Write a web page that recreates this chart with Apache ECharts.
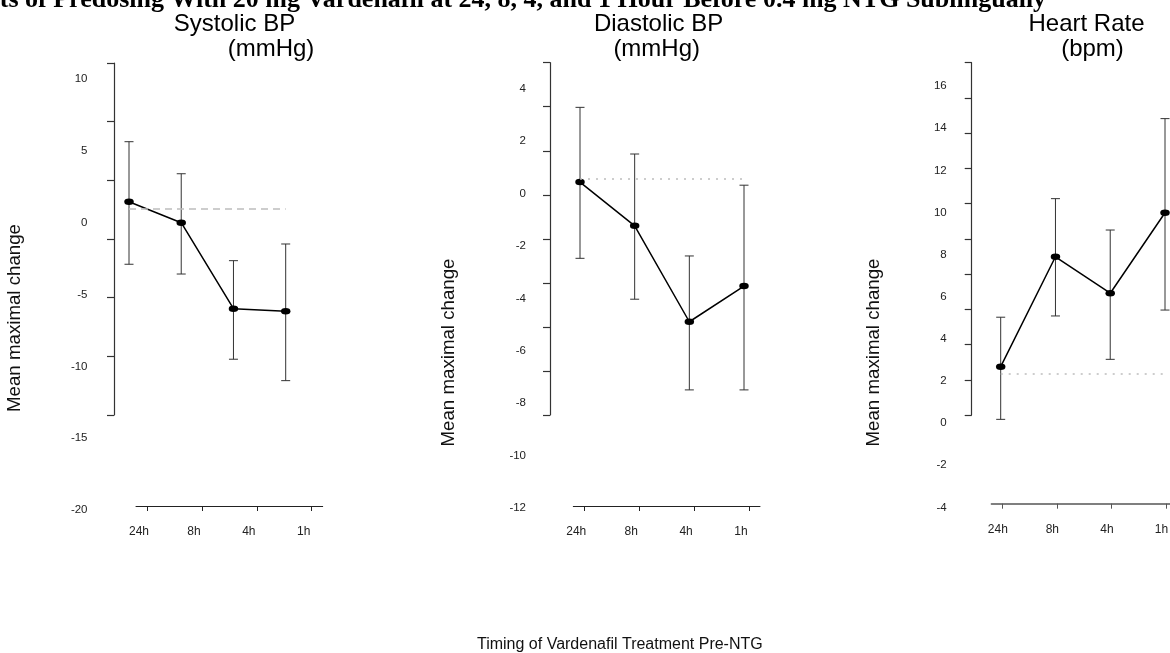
<!DOCTYPE html>
<html><head><meta charset="utf-8">
<script src="https://cdn.jsdelivr.net/npm/echarts@6/dist/echarts.min.js"></script>
<style>html,body{margin:0;padding:0;background:#fff;}#c{width:1170px;height:653px;}</style>
</head><body><div id="c"></div>
<script>
// ---- data ----
const categories = ['24h', '8h', '4h', '1h'];

const sysTickLabels = [-20, -15, -10, -5, 0, 5, 10];
const sysMean = [1.46, 0.00, -5.98, -6.16];
const sysLow  = [-2.89, -3.57, -9.50, -10.99];
const sysHigh = [5.64, 3.41, -2.64, -1.48];
const sysRef = 0.94;

const diaTickLabels = [-12, -10, -8, -6, -4, -2, 0, 2, 4];
const diaMean = [0.44, -1.23, -4.89, -3.53];
const diaLow  = [-2.47, -4.03, -7.49, -7.49];
const diaHigh = [3.29, 1.51, -2.38, 0.32];
const diaRef = 0.55;

const hrTickLabels = [-4, -2, 0, 2, 4, 6, 8, 10, 12, 14, 16];
const hrMean = [2.68, 7.90, 6.17, 9.99];
const hrLow  = [0.18, 5.09, 3.03, 5.37];
const hrHigh = [5.03, 10.66, 9.17, 14.46];
const hrRef = 2.33;

const mainTitle = 'Effects of Predosing With 20 mg Vardenafil at 24, 8, 4, and 1 Hour Before 0.4 mg NTG Sublingually';
const panelTitles = [['Systolic BP', '(mmHg)'], ['Diastolic BP', '(mmHg)'], ['Heart Rate', '(bpm)']];
const yTitle = 'Mean maximal change';
const xTitle = 'Timing of Vardenafil Treatment Pre-NTG';

// ---- layout (positions / styles only) ----
const panels = [
  { ticks: sysTickLabels, mean: sysMean, low: sysLow, high: sysHigh, ref: sysRef,
    axisX: 114, axisTop: 63, axisBottom: 415,
    dataLeft: 129, dataRight: 285.7, dataTop: 79.05, dataBottom: 510.1, yLabelMargin: 41.5,
    xLeft: 136, xW: 186.7, xLine: 506, xPad: 16, xColor: '#222', xLW: 1,
    t1x: 234.5, t2x: 271, ytx: 15, yty: 318, refDash: [7, 5] },
  { ticks: diaTickLabels, mean: diaMean, low: diaLow, high: diaHigh, ref: diaRef,
    axisX: 550, axisTop: 62.7, axisBottom: 415,
    dataLeft: 580, dataRight: 744, dataTop: 88.75, dataBottom: 508.1, yLabelMargin: 54,
    xLeft: 573.3, xW: 186.7, xLine: 506, xPad: 16, xColor: '#222', xLW: 1,
    t1x: 658.6, t2x: 656.7, ytx: 449, yty: 352.5, refDash: [2, 6] },
  { ticks: hrTickLabels, mean: hrMean, low: hrLow, high: hrHigh, ref: hrRef,
    axisX: 971.7, axisTop: 62.7, axisBottom: 415,
    dataLeft: 1000.7, dataRight: 1165, dataTop: 86.19, dataBottom: 507.39, yLabelMargin: 54,
    xLeft: 991.4, xW: 185.5, xLine: 503.7, xPad: 9, xColor: '#555', xLW: 1.5,
    t1x: 1086.5, t2x: 1092.5, ytx: 874, yty: 352.5, refDash: [2, 6] }
];

const FONT = 'Liberation Sans';
const grid = [], xAxis = [], yAxis = [], series = [], graphic = [];
const title = [
  { text: mainTitle, left: -58, top: 0.2, padding: 0, textAlign: 'left', textVerticalAlign: 'middle',
    textStyle: { fontFamily: 'Liberation Serif', fontWeight: 'bold', fontSize: 26, color: '#000' } },
  { text: xTitle, left: 477, top: 644.3, padding: 0, textAlign: 'left', textVerticalAlign: 'middle',
    textStyle: { fontFamily: FONT, fontWeight: 'normal', fontSize: 16, color: '#111' } }
];

panels.forEach((p, k) => {
  const mn = p.ticks[0], mx = p.ticks[p.ticks.length - 1], step = p.ticks[1] - p.ticks[0];
  const g0 = grid.length;
  // grid: visible y axis line + ticks
  grid.push({ left: p.axisX, top: p.axisTop, width: 20, height: p.axisBottom - p.axisTop, containLabel: false, outerBoundsMode: 'none' });
  xAxis.push({ gridIndex: g0, type: 'value', show: false });
  yAxis.push({ gridIndex: g0, type: 'value', min: mn, max: mx, interval: step, position: 'left',
    axisLine: { show: true, onZero: false, lineStyle: { color: '#333', width: 1.2 } },
    axisTick: { show: true, inside: false, length: 7, lineStyle: { color: '#333', width: 1.2 } },
    axisLabel: { show: false }, splitLine: { show: false } });
  // grid: data + value labels
  const g1 = g0 + 1;
  grid.push({ left: p.dataLeft, top: p.dataTop, width: p.dataRight - p.dataLeft, height: p.dataBottom - p.dataTop, containLabel: false, outerBoundsMode: 'none' });
  xAxis.push({ gridIndex: g1, type: 'value', min: 0, max: categories.length - 1, show: false });
  yAxis.push({ gridIndex: g1, type: 'value', min: mn, max: mx, interval: step, position: 'left',
    axisLine: { show: false, onZero: false }, axisTick: { show: false }, splitLine: { show: false },
    axisLabel: { show: true, margin: p.yLabelMargin, fontFamily: FONT, fontSize: 11.5, color: '#222' } });
  // grid: visible category axis
  const g2 = g0 + 2;
  grid.push({ left: p.xLeft, top: p.xLine - 60, width: p.xW, height: 60, containLabel: false, outerBoundsMode: 'none' });
  const idx = categories.map((c, i) => i);
  xAxis.push({ gridIndex: g2, type: 'value', min: -0.2, max: categories.length - 0.8, position: 'bottom',
    axisLine: { show: true, onZero: false, lineStyle: { color: p.xColor, width: p.xLW } },
    axisTick: { show: true, customValues: idx, length: 5, lineStyle: { color: p.xColor, width: 1 } },
    axisLabel: { show: true, customValues: idx, formatter: v => categories[Math.round(v)] || '',
      margin: 20, padding: [0, p.xPad, 0, 0], fontFamily: FONT, fontSize: 12, color: '#222' },
    splitLine: { show: false } });
  yAxis.push({ gridIndex: g2, type: 'value', show: false });

  series.push({
    type: 'custom', xAxisIndex: g1, yAxisIndex: g1, silent: true, z: 2,
    data: categories.map((c, i) => [i, p.low[i], p.high[i]]),
    encode: { x: 0, y: [1, 2] },
    renderItem: (params, api) => {
      const x = api.value(0);
      const top = api.coord([x, api.value(2)]);
      const bot = api.coord([x, api.value(1)]);
      const hw = 4.5, st = { stroke: '#333', lineWidth: 1 };
      return { type: 'group', children: [
        { type: 'line', shape: { x1: top[0], y1: top[1], x2: bot[0], y2: bot[1] }, style: st },
        { type: 'line', shape: { x1: top[0] - hw, y1: top[1], x2: top[0] + hw, y2: top[1] }, style: st },
        { type: 'line', shape: { x1: bot[0] - hw, y1: bot[1], x2: bot[0] + hw, y2: bot[1] }, style: st }
      ] };
    }
  });
  series.push({
    type: 'line', xAxisIndex: g1, yAxisIndex: g1, z: 3,
    data: categories.map((c, i) => [i, p.mean[i]]),
    symbol: 'circle', symbolSize: [9.5, 6.5], showSymbol: true,
    itemStyle: { color: '#000' }, lineStyle: { color: '#000', width: 1.5 },
    markLine: { silent: true, symbol: ['none', 'none'], label: { show: false },
      lineStyle: { color: '#bdbdbd', type: p.refDash, width: 1.5 },
      data: [{ yAxis: p.ref }] }
  });

  title.push({ text: panelTitles[k][0], left: p.t1x, top: 23.9, padding: 0, textAlign: 'center', textVerticalAlign: 'middle',
    textStyle: { fontFamily: FONT, fontWeight: 'normal', fontSize: 24, color: '#000' } });
  title.push({ text: panelTitles[k][1], left: p.t2x, top: 49.7, padding: 0, textAlign: 'center', textVerticalAlign: 'middle',
    textStyle: { fontFamily: FONT, fontWeight: 'normal', fontSize: 24, color: '#000' } });
  graphic.push({ type: 'text', x: p.ytx, y: p.yty, rotation: Math.PI / 2, silent: true,
    style: { text: yTitle, font: '18.7px "Liberation Sans"', fill: '#111', align: 'center', verticalAlign: 'middle',
      textAlign: 'center', textVerticalAlign: 'middle' } });
});

const chart = echarts.init(document.getElementById('c'), null, { renderer: 'canvas' });
chart.setOption({
  backgroundColor: '#fff',
  animation: false,
  textStyle: { fontFamily: FONT },
  title, grid, xAxis, yAxis, series, graphic
});
</script></body></html>
